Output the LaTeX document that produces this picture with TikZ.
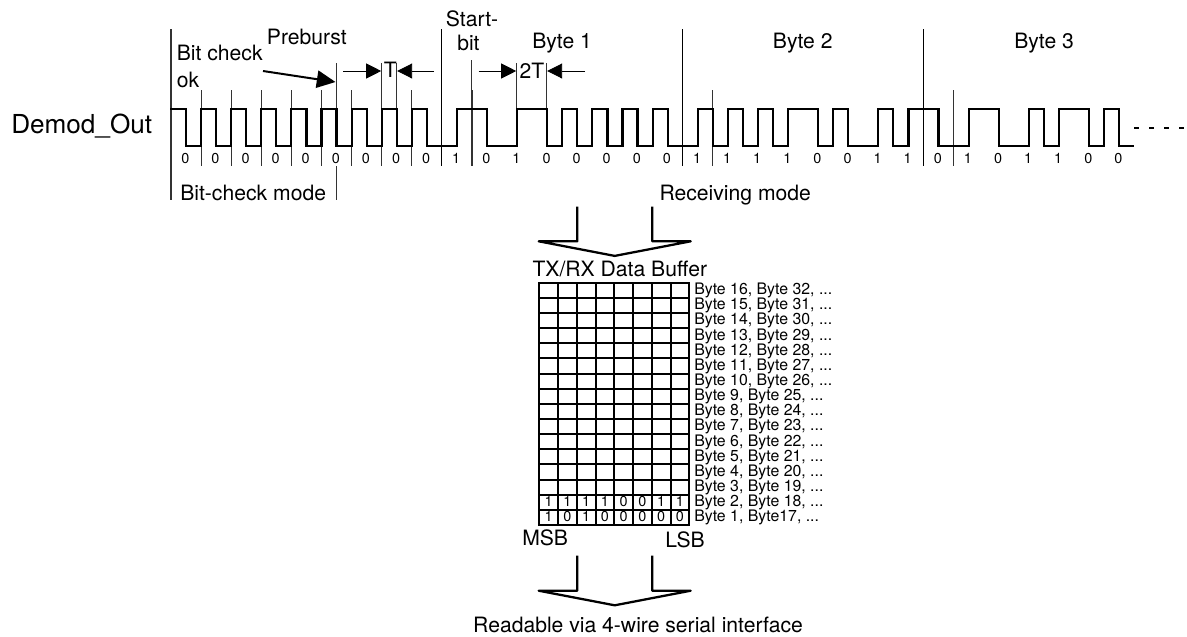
\documentclass[tikz,border=0pt]{standalone}
\usepackage{fontspec}
\setmainfont{TeX Gyre Heros}
\usetikzlibrary{arrows.meta}
\definecolor{ticklinegrey}{HTML}{333333}
\tikzset{
  lbl/.style={inner sep=0pt,anchor=base west},
  bigtext/.style={lbl,font=\fontsize{19.6}{22}\selectfont},
  midtext/.style={lbl,font=\fontsize{15.85}{18}\selectfont},
  smalltext/.style={lbl,font=\fontsize{11.9}{13}\selectfont},
  digit/.style={inner sep=0pt,anchor=base,font=\fontsize{10.8}{12}\selectfont},
  ticks/.style={ticklinegrey,line width=0.8pt},
  signal/.style={black,line width=1.6pt,miter limit=10},
  gridline/.style={black,line width=1.5pt,line cap=rect},
  dimarrow/.style={-{Triangle[length=11.25pt,width=11.25pt]},black,line width=0.7pt},
  busarrow/.style={black,line width=1.7pt,line join=round}
}
\newcommand{\drawbus}[2]{% {top y}{shoulder y}
  \draw[busarrow] (577.3,#1) -- (577.3,#2) -- (538.7,#2) -- (614.7,#2+14.6) -- (690.7,#2) -- (652.3,#2) -- (652.3,#1);
}
\begin{document}
\begin{tikzpicture}[x=0.75pt,y=-0.75pt]
  \useasboundingbox (0,0) rectangle (1187,636);
  % Short ticks
  \foreach \k in {1,...,8,10,...,16,18,...,24,26,...,32}
    \draw[ticks] ({171+30.1*\k},90) -- ({171+30.1*\k},166);
  % Tall ticks
  \draw[ticks] (171,29.3) -- (171,200);
  \foreach \k in {9,17,25}
    \draw[ticks,black] ({171+30.1*\k},29.3) -- ({171+30.1*\k},166);
  \draw[ticks] (471.3,60) -- (471.3,90);
  \draw[ticks] (381.7,63) -- (381.7,90);
  % Half-bit ticks
  \draw[ticks] (336.5,63) -- (336.5,108.7);
  \draw[ticks] (336.5,166) -- (336.5,200);
  \draw[ticks] (396.7,63) -- (396.7,108.7);
  \draw[ticks] (516.7,63) -- (516.7,108.7);
  \draw[ticks] (546.7,63) -- (546.7,108.7);
  % Demodulated signal
  \draw[signal] (170,108.7) -- (171,108.7)
    \foreach \b [count=\k from 0,
                 evaluate=\k as \xa using 171+30.1*\k,
                 evaluate=\k as \xm using 171+30.1*\k+15.05,
                 evaluate=\k as \xe using 171+30.1*\k+30.1,
                 evaluate=\b as \yf using 108.7+37.6*\b,
                 evaluate=\b as \ys using 146.3-37.6*\b] in
      {0,0,0,0,0,0,0,0,0,1,0,1,0,0,0,0,0,1,1,1,1,0,0,1,1,0,1,0,1,1,0,0}
      { -- (\xa,\yf) -- (\xm,\yf) -- (\xm,\ys) -- (\xe,\ys) };
  % Bit values
  \foreach \b [count=\k from 0] in
      {0,0,0,0,0,0,0,0,0,1,0,1,0,0,0,0,0,1,1,1,1,0,0,1,1,0,1,0,1,1,0,0}
    \node[digit] (bit\k) at ({171+30.1*\k+14.3},163.3) {\b};
  % Continuation
  \coordinate (signalend) at (1134.2,127.7);
  \coordinate (signalmore) at (1187,127.7);
  \draw[black,line width=1.5pt,dash pattern=on 3.75pt off 7.5pt] (signalend) -- (signalmore);
  % Labels
  \node[bigtext] (demod) at (11,133) {Demod\_Out};
  \node[midtext] (bitcheck) at (176.5,60.7) {Bit check};
  \node[midtext] (bitcheckok) at (176.5,87) {ok};
  \node[midtext] (preburst) at (266.7,44) {Preburst};
  \node[midtext] (checkmode) at (180,200.7) {Bit-check mode};
  \node[midtext] (recvmode) at (659.3,200.7) {Receiving mode};
  \node[midtext] (startbit) at (445.7,26) {Start-};
  \node[midtext] (startbitb) at (457,50.7) {bit};
  \node[midtext] (byteone) at (532,48.3) {Byte 1};
  \node[midtext] (bytetwo) at (772.7,48.3) {Byte 2};
  \node[midtext] (bytethree) at (1014,48.3) {Byte 3};
  \node[midtext] (tlabel) at (383.5,77) {T};
  \node[midtext] (twotlabel) at (519.3,78) {2T};
  % Arrows
  \coordinate (burstfrom) at (263,71);
  \coordinate (burstto) at (335.5,82);
  \draw[-{Triangle[length=14pt,width=13pt]},black,line width=1.5pt] (burstfrom) -- (burstto);
  \coordinate (tleftfrom) at (343,71);
  \coordinate (tleftto) at (381.2,71);
  \coordinate (trightfrom) at (434,71);
  \coordinate (trightto) at (397.2,71);
  \draw[dimarrow] (tleftfrom) -- (tleftto);
  \draw[dimarrow] (trightfrom) -- (trightto);
  \coordinate (ttleftfrom) at (478.7,71);
  \coordinate (ttleftto) at (516.2,71);
  \coordinate (ttrightfrom) at (585,71);
  \coordinate (ttrightto) at (547.2,71);
  \draw[dimarrow] (ttleftfrom) -- (ttleftto);
  \draw[dimarrow] (ttrightfrom) -- (ttrightto);
  % Bus arrows
  \drawbus{206.7}{241.3}
  \drawbus{555.7}{590.7}
  % Buffer
  \node[midtext] (buffer) at (532.3,276) {TX/RX Data Buffer};
  \foreach \c in {0,...,8}
    \draw[gridline] ({539.3+18.75*\c},282.7) -- ({539.3+18.75*\c},525);
  \foreach \r in {0,...,16}
    \draw[gridline] (539.3,{282.7+15.14*\r}) -- (689.3,{282.7+15.14*\r});
  % Byte rows
  \foreach \r/\t in {1/{Byte 16, Byte 32, ...},2/{Byte 15, Byte 31, ...},3/{Byte 14, Byte 30, ...},
      4/{Byte 13, Byte 29, ...},5/{Byte 12, Byte 28, ...},6/{Byte 11, Byte 27, ...},
      7/{Byte 10, Byte 26, ...},8/{Byte 9, Byte 25, ...},9/{Byte 8, Byte 24, ...},
      10/{Byte 7, Byte 23, ...},11/{Byte 6, Byte 22, ...},12/{Byte 5, Byte 21, ...},
      13/{Byte 4, Byte 20, ...},14/{Byte 3, Byte 19, ...},15/{Byte 2, Byte 18, ...},
      16/{Byte 1, Byte17, ...}}
    \node[smalltext] (row\r) at (694,{282.7+15.14*\r-3.2}) {\t};
  % Received bytes
  \foreach \b [count=\c from 0] in {1,1,1,1,0,0,1,1}
    \node[digit] (rowb\c) at ({539.3+18.75*\c+9.4},506.2) {\b};
  \foreach \b [count=\c from 0] in {1,0,1,0,0,0,0,0}
    \node[digit] (rowa\c) at ({539.3+18.75*\c+9.4},521.5) {\b};
  \node[midtext] (msb) at (522,545.7) {MSB};
  \node[midtext] (lsb) at (665,547.7) {LSB};
  \node[midtext,anchor=base] (serial) at (638,632.7) {Readable via 4-wire serial interface};
\end{tikzpicture}
\end{document}
